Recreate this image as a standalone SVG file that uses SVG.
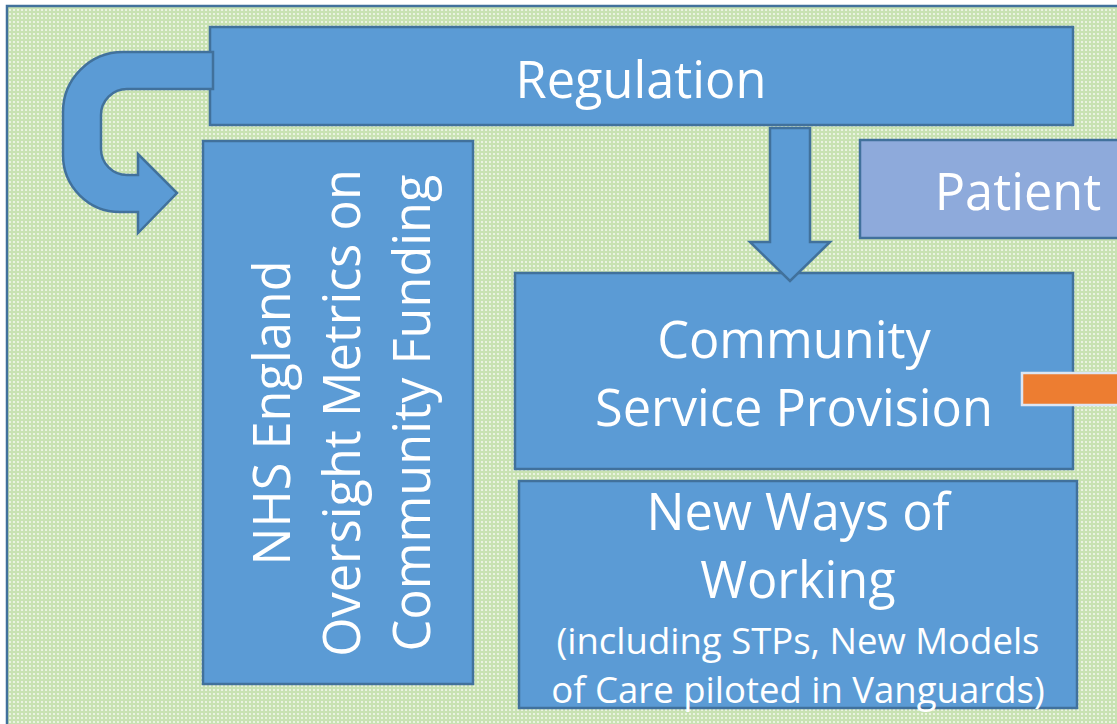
<svg xmlns="http://www.w3.org/2000/svg" width="1117" height="724" viewBox="0 0 1117 724">
<defs>
<pattern id="dots" width="4" height="4" patternUnits="userSpaceOnUse">
<rect width="4" height="4" fill="#c8e2b2"/>
<circle cx="2" cy="2" r="1.1" fill="#f2f8ec"/>
</pattern>
</defs>
<style>
.box{fill:#5b9bd5;stroke:#41719c;stroke-width:2.5}
.pat{fill:#8eaadb;stroke:#41719c;stroke-width:2.5}
.t{font-family:"Open Sans","Noto Sans",sans-serif;fill:#ffffff;text-anchor:middle}
.big{font-size:50.5px}
.small{font-size:36.5px}
</style>
<rect x="7" y="6" width="1130" height="740" fill="url(#dots)" stroke="#41719c" stroke-width="2.5"/>
<g id="regulation">
<rect class="box" x="210" y="27" width="863" height="98"/>
<text class="t big" x="641" y="98">Regulation</text>
</g>
<g id="nhs">
<rect class="box" x="203" y="141" width="270" height="543"/>
<g transform="translate(0,413) rotate(-90)">
<text class="t big" x="0" y="290">NHS England</text>
<text class="t big" x="0" y="360">Oversight Metrics on</text>
<text class="t big" x="0" y="430">Community Funding</text>
</g>
</g>
<g id="patient">
<rect class="pat" x="860" y="140" width="280" height="98"/>
<text class="t big" x="1018" y="210">Patient</text>
</g>
<g id="community">
<rect class="box" x="515" y="273" width="558" height="196"/>
<text class="t big" x="794" y="358">Community</text>
<text class="t big" x="794" y="426">Service Provision</text>
</g>
<g id="newways">
<rect class="box" x="519" y="481" width="558" height="227"/>
<text class="t big" x="798" y="530">New Ways of</text>
<text class="t big" x="798" y="598">Working</text>
<text class="t small" x="798" y="654">(including STPs, New Models</text>
<text class="t small" x="798" y="703">of Care piloted in Vanguards)</text>
</g>
<g id="connectors">
<path class="box" d="M213,52 L123,52 A60,60 0 0 0 63,112 L63,155 A57,57 0 0 0 120,212 L138,212 L138,233 L177,193 L138,154 L138,175 L127,175 A26,26 0 0 1 101,149 L101,115 A26,26 0 0 1 127,89 L213,89 Z"/>
<path class="box" d="M770,128 L810,128 L810,242 L830,242 L790,281 L750,242 L770,242 Z"/>
<rect x="1022" y="373" width="110" height="32" fill="#ed7d31" stroke="#dde6f3" stroke-width="2.5"/>
</g>
</svg>
